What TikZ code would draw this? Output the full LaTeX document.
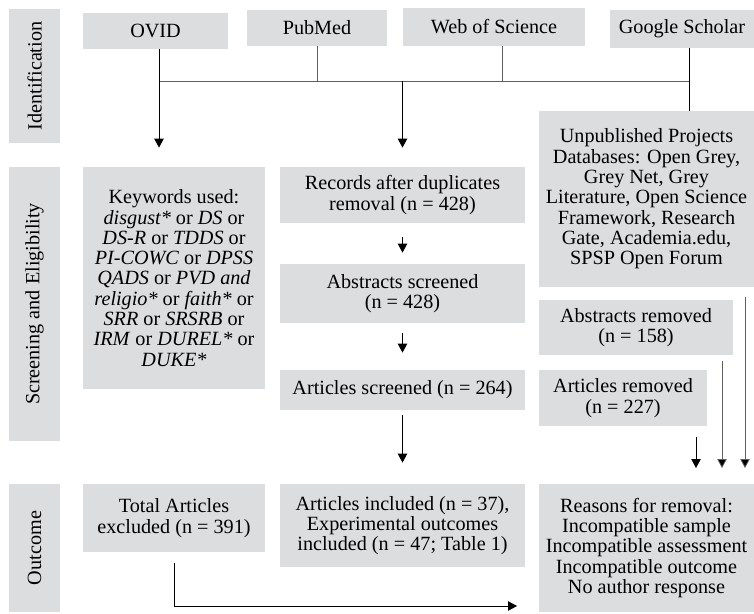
\documentclass[tikz,border=0pt]{standalone}
\usepackage{fontspec}
\setmainfont{Liberation Serif}
\usepackage{tikz}
\usetikzlibrary{arrows.meta}
\usetikzlibrary{positioning}
\usetikzlibrary{calc}
\definecolor{boxgray}{RGB}{220,221,223}
\definecolor{linegray}{RGB}{95,95,95}

\begin{document}
\begin{tikzpicture}[x=1pt,y=-1pt,line width=0.8pt,>={Triangle[length=9pt,width=9.5pt]}]
\tikzstyle{box}=[fill=boxgray,inner sep=0pt,align=center,font=\fontsize{20.2}{20.3}\selectfont]
\tikzstyle{phase}=[box,rotate=90,minimum height=51pt]
\tikzstyle{gline}=[draw=linegray]
\useasboundingbox (0,0) rectangle (754,613);

% phases
\node [phase,minimum width=134pt] (idf) at (34.5,76) {Identification};
\node [phase,minimum width=274pt] (scr) at (34.5,304) {Screening and Eligibility};
\node [phase,minimum width=128pt] (outc) at (34.5,548) {Outcome};

% sources
\node [box,minimum width=145pt,minimum height=36pt] (ovid) at (155.5,31) {OVID};
\node [box,minimum width=140pt,minimum height=36pt] (pub) at (317,28) {PubMed};
\node [box,minimum width=182pt,minimum height=38pt] (wos) at (494,27) {Web of Science};
\node [box,minimum width=144pt,minimum height=38pt] (gs) at (682,29) {Google Scholar};

% screening
\node [box,minimum width=182pt,minimum height=222pt] (kw) at (174,278) {Keywords used:\\
  \textit{disgust*} or \textit{DS} or\\
  \textit{DS-R} or \textit{TDDS} or\\
  \textit{PI-COWC} or \textit{DPSS}\\
  \textit{QADS} or \textit{PVD and}\\
  \textit{religio*} or \textit{faith*} or\\
  \textit{SRR} or \textit{SRSRB} or\\
  \textit{IRM} or \textit{DUREL*} or\\
  \textit{DUKE*}};
\node [box,minimum width=245pt,minimum height=56pt] (rec) at (402.5,195) {Records after duplicates\\removal (n = 428)};
\node [box,minimum width=245pt,minimum height=59pt] (abs) at (402.5,293.5) {Abstracts screened\\(n = 428)};
\node [box,minimum width=245pt,minimum height=40pt] (art) at (402.5,390) {Articles screened (n = 264)};
\node [box,minimum width=215pt,minimum height=176pt] (unp) at (646.5,199) {Unpublished Projects\\
  Databases: Open Grey,\\
  Grey Net, Grey\\
  Literature, Open Science\\
  Framework, Research\\
  Gate, Academia.edu,\\
  SPSP Open Forum};
\node [box,minimum width=194pt,minimum height=55pt] (absrm) at (636,327.5) {Abstracts removed\\(n = 158)};
\node [box,minimum width=168pt,minimum height=56pt] (artrm) at (623,398) {Articles removed\\(n = 227)};

% outcome
\node [box,minimum width=182pt,minimum height=68pt] (tot) at (174,518) {Total Articles\\excluded (n = 391)};
\node [box,minimum width=245pt,minimum height=83pt] (inc) at (402.5,525.5) {Articles included (n = 37),\\Experimental outcomes\\included (n = 47; Table 1)};
\node [box,minimum width=215pt,minimum height=128pt] (rsn) at (646.5,548) {Reasons for removal:\\
  Incompatible sample\\
  Incompatible assessment\\
  Incompatible outcome\\
  No author response};

\coordinate (hl) at (159,81);
\coordinate (hr) at (689,81);
\coordinate (t1) at (696,468);
\coordinate (t2) at (722,468);
\coordinate (t3) at (745,468);
\coordinate (be) at (517,606);

\draw[gline] (hl) -- (hr);
\draw[gline] (pub.south) -- (pub.south |- hl);
\draw[gline] ([xshift=8pt]wos.south) -- ([xshift=8pt]wos.south |- hl);
\draw ([xshift=7pt]gs.south) -- ([xshift=7pt]gs.south |- unp.north);
\draw[->] (ovid.south -| hl) -- ([yshift=19pt]kw.north -| hl);
\draw[->] (rec.north |- hl) -- ([yshift=19pt]rec.north);
\draw[->] ([yshift=-14pt]rec.south) -- ([yshift=11pt]abs.north);
\draw[->] ([yshift=-10pt]abs.south) -- ([yshift=17pt]art.north);
\draw[->] ([yshift=-5pt]art.south) -- ([yshift=21pt]inc.north);

%\draw (unp.south) -- (absrm.north);
\draw[->] ([yshift=-11pt]artrm.south -| t1) -- (t1);
\draw[->,gline,-{Triangle[length=9pt,width=9.5pt,fill=black]}] ([yshift=-6pt]absrm.south -| t2) -- (t2);
\draw[->,gline,-{Triangle[length=9pt,width=9.5pt,fill=black]}] ([yshift=-10pt]unp.south -| t3) -- (t3);
\draw[->] ([yshift=-11pt]tot.south) |- (be);
\end{tikzpicture}
\end{document}
